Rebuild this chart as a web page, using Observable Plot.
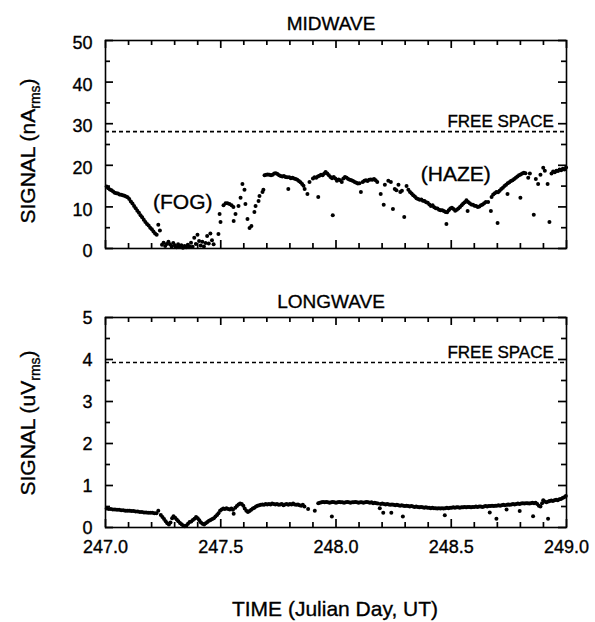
<!DOCTYPE html>
<html><head><meta charset="utf-8">
<script src="https://cdn.jsdelivr.net/npm/d3@7"></script>
<script src="https://cdn.jsdelivr.net/npm/@observablehq/plot@0.6"></script>
<style>
body{margin:0;background:#fff;}
#chart{position:relative;width:595px;height:622px;font-family:"Liberation Sans",Arial,Helvetica,sans-serif;color:#000;overflow:hidden;}
#chart > svg{position:absolute;left:0;overflow:visible;}
#chart text{stroke:#000;stroke-width:0.35px;}
.t{position:absolute;white-space:nowrap;line-height:1;-webkit-text-stroke:0.35px #000;}
.ttl{font-size:19px;transform:translate(-50%,-50%);}
.xlab{font-size:21px;transform:translate(-50%,-50%);}
.ylab{font-size:21px;transform:translate(-50%,-50%) rotate(-90deg);}
.ylab sub{font-size:14px;vertical-align:-5px;}
</style></head><body><div id="chart"></div>
<script>
// ---- data ----
const xMajor = [247.0, 247.5, 248.0, 248.5, 249.0];
const xMinor = [247.1,247.2,247.3,247.4,247.6,247.7,247.8,247.9,248.1,248.2,248.3,248.4,248.6,248.7,248.8,248.9];
const midMajor = [0, 10, 20, 30, 40, 50];
const midMinor = [5, 15, 25, 35, 45];
const longMajor = [0, 1, 2, 3, 4, 5];
const longMinor = [0.5, 1.5, 2.5, 3.5, 4.5];
const freeSpaceMid = 28.1;
const freeSpaceLong = 3.93;

const midwave = [
[247.005,14.9],[247.012,14.5],[247.019,14.2],[247.026,14.0],[247.033,13.7],[247.040,13.4],[247.047,13.3],[247.054,13.2],[247.061,13.0],[247.068,12.9],[247.075,12.8],[247.082,12.7],[247.089,12.5],[247.096,12.3],[247.103,11.9],[247.110,11.3],[247.117,10.8],[247.124,10.2],[247.131,9.7],[247.138,9.1],[247.145,8.6],[247.152,8.0],[247.159,7.5],[247.166,6.9],[247.173,6.4],[247.180,5.9],[247.187,5.5],[247.194,5.0],[247.201,4.6],[247.208,4.1],[247.215,3.6],[247.222,3.3],[247.229,5.7],[247.236,4.3],
[247.245,0.9],[247.252,1.4],[247.259,0.6],[247.266,1.1],[247.273,1.6],[247.280,1.0],[247.287,0.5],[247.294,1.3],[247.301,0.7],[247.308,0.3],[247.315,1.0],[247.322,0.4],[247.329,0.8],[247.336,0.2],[247.343,0.6],[247.350,0.3],[247.357,0.9],[247.364,0.5],[247.371,1.4],[247.378,0.4],[247.385,2.6],[247.392,1.1],[247.399,3.3],[247.406,1.8],[247.413,0.7],[247.420,1.6],[247.427,0.5],[247.434,1.3],[247.441,3.0],[247.448,1.2],[247.455,3.6],[247.462,2.0],[247.469,1.0],
[247.490,3.5],[247.495,8.3],[247.499,6.4],[247.512,10.4],[247.521,10.9],[247.529,10.9],[247.538,10.7],[247.547,10.4],[247.555,10.0],[247.556,6.6],[247.564,8.3],[247.577,10.2],[247.586,12.2],[247.594,15.5],[247.603,14.1],[247.607,10.7],[247.616,7.1],[247.625,4.9],[247.633,5.4],[247.646,8.8],[247.651,10.2],[247.664,11.4],[247.668,12.6],[247.681,13.6],[247.685,14.1],
[247.690,17.6],[247.697,17.7],[247.704,17.8],[247.711,17.7],[247.718,17.6],[247.725,17.7],[247.732,18.0],[247.739,18.1],[247.746,17.9],[247.753,17.6],[247.760,17.4],[247.767,17.3],[247.774,17.4],[247.781,17.2],[247.788,17.1],[247.793,14.3],[247.797,17.1],[247.804,16.9],[247.811,17.0],[247.818,16.8],[247.825,16.7],[247.832,16.5],[247.839,16.2],[247.846,15.9],[247.853,15.5],[247.859,15.1],[247.864,14.3],[247.876,13.1],[247.885,16.0],[247.900,16.8],[247.907,17.1],[247.914,17.0],[247.921,17.3],[247.923,12.4],[247.928,17.5],[247.935,17.7],[247.942,17.6],[247.949,18.0],[247.955,18.4],[247.962,18.0],[247.969,17.6],[247.976,17.2],[247.983,16.9],[247.986,8.0],
[247.990,17.2],[247.997,16.8],[248.004,16.3],[248.011,16.6],[248.018,16.4],[248.025,16.0],[248.032,16.8],[248.039,17.2],[248.046,17.0],[248.053,16.7],[248.060,16.5],[248.067,16.4],[248.074,16.2],[248.081,16.0],[248.088,15.8],[248.095,15.6],[248.102,15.7],[248.108,13.6],[248.116,16.0],[248.123,16.3],[248.130,16.4],[248.137,16.2],[248.144,16.5],[248.151,16.6],[248.158,16.5],[248.165,16.7],[248.172,16.4],[248.179,16.0],[248.194,13.1],[248.207,10.5],[248.212,15.3],[248.227,16.3],[248.238,16.0],[248.247,9.5],[248.255,14.3],[248.262,14.0],[248.271,15.3],[248.279,13.6],[248.286,13.9],[248.296,7.6],[248.306,15.0],[248.314,14.1],[248.321,13.6],[248.328,13.2],[248.335,12.8],[248.342,12.5],[248.349,12.1],[248.356,11.9],[248.363,11.7],[248.370,11.8],[248.377,11.5],[248.384,11.4],[248.391,11.1],[248.398,11.0],[248.405,10.6],[248.412,10.2],[248.419,10.4],[248.426,9.9],[248.433,9.7],[248.440,9.6],[248.447,9.3],[248.454,9.2],
[248.461,9.2],[248.468,9.0],[248.475,8.8],[248.479,5.9],[248.482,8.7],[248.489,9.2],[248.496,9.6],[248.503,9.8],[248.510,9.5],[248.517,9.1],[248.524,9.3],[248.531,9.6],[248.538,10.0],[248.545,10.4],[248.552,10.8],[248.559,11.1],[248.566,11.6],[248.571,9.0],[248.573,11.2],[248.580,10.9],[248.587,10.6],[248.594,10.5],[248.601,10.3],[248.608,10.2],[248.615,10.0],[248.622,10.1],[248.629,10.4],[248.636,10.6],[248.643,10.9],[248.650,11.2],[248.660,11.2],[248.672,9.0],[248.675,12.4],[248.682,13.0],[248.689,13.3],[248.696,13.6],[248.701,6.1],[248.703,13.5],[248.710,13.9],[248.717,14.3],[248.724,14.6],[248.731,15.0],[248.738,15.3],[248.744,13.1],[248.745,15.7],[248.752,15.9],[248.759,16.2],[248.766,16.4],[248.773,16.7],[248.780,17.0],[248.787,17.3],[248.794,17.6],[248.800,12.2],[248.801,17.8],[248.808,18.0],[248.815,18.2],[248.822,18.1],[248.834,17.0],[248.841,18.0],[248.858,8.1],[248.867,16.7],[248.877,15.5],[248.887,17.7],[248.899,19.4],[248.906,18.7],[248.918,15.5],[248.926,6.4],[248.935,18.0],[248.942,18.5],[248.949,18.3],[248.956,18.7],[248.963,18.6],[248.970,19.0],[248.977,18.8],[248.984,19.2],[248.991,19.0],[248.998,19.5]
];

const longwave = [
[247.005,0.45],[247.014,0.44],[247.023,0.44],[247.032,0.43],[247.041,0.43],[247.050,0.42],[247.059,0.42],[247.068,0.41],[247.077,0.41],[247.086,0.40],[247.095,0.40],[247.104,0.40],[247.113,0.39],[247.122,0.39],[247.131,0.38],[247.140,0.38],[247.149,0.37],[247.158,0.37],[247.167,0.36],[247.176,0.36],[247.185,0.35],[247.194,0.35],[247.203,0.35],[247.212,0.34],[247.221,0.34],[247.229,0.40],
[247.240,0.30],[247.247,0.25],[247.254,0.20],[247.261,0.15],[247.268,0.10],[247.275,0.07],[247.282,0.12],[247.289,0.22],[247.295,0.27],[247.302,0.23],[247.309,0.19],[247.316,0.15],[247.323,0.11],[247.330,0.08],[247.337,0.05],[247.344,0.03],[247.351,0.05],[247.358,0.09],[247.365,0.13],[247.372,0.14],[247.379,0.18],[247.386,0.21],[247.393,0.25],[247.400,0.22],[247.407,0.17],[247.414,0.12],[247.421,0.09],[247.428,0.07],[247.435,0.10],[247.442,0.13],[247.449,0.16],[247.456,0.18],[247.463,0.20],[247.470,0.22],[247.477,0.26],[247.484,0.30],[247.490,0.34],
[247.497,0.40],[247.504,0.43],[247.511,0.45],[247.518,0.44],[247.525,0.46],[247.532,0.44],[247.539,0.43],[247.546,0.45],[247.553,0.42],[247.556,0.33],[247.563,0.47],[247.570,0.51],[247.577,0.55],[247.584,0.57],[247.591,0.56],[247.598,0.52],[247.604,0.45],[247.611,0.40],[247.618,0.37],[247.625,0.39],[247.632,0.42],[247.639,0.45],[247.646,0.47],[247.653,0.50],[247.660,0.52],[247.667,0.53],[247.674,0.54],[247.681,0.55],[247.688,0.54],[247.695,0.56],[247.702,0.55],[247.709,0.56],[247.716,0.55],[247.723,0.57],[247.730,0.56],[247.737,0.55],[247.744,0.56],[247.751,0.54],[247.758,0.55],[247.765,0.56],[247.772,0.53],[247.779,0.55],[247.786,0.56],[247.793,0.54],[247.800,0.56],[247.807,0.55],[247.814,0.57],[247.821,0.55],[247.828,0.54],[247.835,0.55],[247.842,0.53],[247.849,0.52],[247.856,0.54],[247.863,0.50],[247.879,0.44],[247.908,0.40],
[247.923,0.58],[247.930,0.59],[247.937,0.60],[247.944,0.61],[247.951,0.60],[247.958,0.61],[247.965,0.60],[247.972,0.59],[247.979,0.60],[247.982,0.26],[247.986,0.61],[247.993,0.60],[248.000,0.59],[248.007,0.60],[248.014,0.61],[248.021,0.60],[248.028,0.60],[248.035,0.59],[248.042,0.60],[248.049,0.61],[248.056,0.60],[248.063,0.59],[248.070,0.60],[248.077,0.60],[248.084,0.61],[248.091,0.60],[248.098,0.59],[248.105,0.60],[248.112,0.60],[248.119,0.59],[248.126,0.60],[248.133,0.61],[248.140,0.60],[248.147,0.59],[248.154,0.60],[248.161,0.58],[248.168,0.59],[248.175,0.58],[248.182,0.57],[248.190,0.46],[248.194,0.56],[248.201,0.57],[248.205,0.35],[248.208,0.56],[248.215,0.55],[248.222,0.56],[248.229,0.55],[248.236,0.54],[248.240,0.35],[248.243,0.55],[248.250,0.54],[248.257,0.53],[248.264,0.54],[248.271,0.53],[248.278,0.52],[248.285,0.53],[248.290,0.26],[248.292,0.52],[248.299,0.51],[248.306,0.52],[248.313,0.51],[248.320,0.50],[248.327,0.51],[248.334,0.50],[248.341,0.49],[248.348,0.50],[248.355,0.49],[248.362,0.48],[248.369,0.49],[248.376,0.48],[248.383,0.47],[248.390,0.48],[248.397,0.47],[248.404,0.47],[248.411,0.46],[248.418,0.47],[248.425,0.46],[248.432,0.46],[248.439,0.45],[248.446,0.46],[248.453,0.45],[248.460,0.46],[248.467,0.45],[248.472,0.29],[248.474,0.46],[248.481,0.47],[248.488,0.46],[248.495,0.47],[248.502,0.47],[248.509,0.48],[248.516,0.47],[248.523,0.48],[248.530,0.48],[248.537,0.47],[248.544,0.48],[248.551,0.48],[248.558,0.49],[248.565,0.48],[248.572,0.49],[248.579,0.49],[248.586,0.48],[248.593,0.49],[248.600,0.49],[248.607,0.50],[248.614,0.49],[248.621,0.50],[248.628,0.50],[248.635,0.49],[248.642,0.50],[248.649,0.51],[248.656,0.50],[248.663,0.51],[248.667,0.36],[248.670,0.51],[248.677,0.52],[248.684,0.51],[248.691,0.52],[248.696,0.21],[248.698,0.52],[248.705,0.53],[248.712,0.52],[248.719,0.53],[248.726,0.54],[248.733,0.53],[248.740,0.43],[248.742,0.54],[248.747,0.55],[248.754,0.54],[248.761,0.55],[248.768,0.56],[248.775,0.55],[248.782,0.56],[248.789,0.57],[248.796,0.56],[248.797,0.39],[248.803,0.57],[248.810,0.58],[248.817,0.57],[248.824,0.58],[248.831,0.58],[248.838,0.57],[248.845,0.58],[248.852,0.59],[248.855,0.27],[248.859,0.58],[248.866,0.59],[248.873,0.56],[248.880,0.52],[248.887,0.50],[248.894,0.58],[248.899,0.65],[248.906,0.62],[248.913,0.60],[248.920,0.21],[248.922,0.62],[248.927,0.63],[248.934,0.64],[248.941,0.63],[248.948,0.65],[248.955,0.66],[248.962,0.65],[248.969,0.67],[248.976,0.68],[248.983,0.70],[248.990,0.72],[248.997,0.75]
];

const midNotes = [{label:"(FOG)", t:247.335, v:11.1}, {label:"(HAZE)", t:248.52, v:17.8}];
const freeLabelT = 248.945;

// ---- drawing ----
const FONT = '"Liberation Sans", Arial, Helvetica, sans-serif';
const W = 595, ML = 105, MR = 29;
const FW = W - ML - MR; // frame width in px

// inward ticks on all four sides: rules pulled in from the far side by insets
function tickMarks(major, minor, frameH) {
  const m = [];
  for (const [vals, s] of [[major, 8], [minor, 5]]) {
    m.push(Plot.ruleY(vals, {y:d=>d, insetRight:FW - s, stroke:"#000", strokeWidth:1.7}));
    m.push(Plot.ruleY(vals, {y:d=>d, insetLeft:FW - s, stroke:"#000", strokeWidth:1.7}));
  }
  for (const [vals, s] of [[xMajor, 8], [xMinor, 5]]) {
    m.push(Plot.ruleX(vals, {x:d=>d, insetTop:frameH - s, stroke:"#000", strokeWidth:1.7}));
    m.push(Plot.ruleX(vals, {x:d=>d, insetBottom:frameH - s, stroke:"#000", strokeWidth:1.7}));
  }
  return m;
}

function panel({data, yDomain, major, minor, free, height, marginTop, marginBottom, notes, labelDy, xLabels}) {
  const frameH = height - marginTop - marginBottom;
  const marks = [
    Plot.frame({stroke:"#000", strokeWidth:1.6}),
    ...tickMarks(major, minor, frameH),
    Plot.ruleY([free], {strokeDasharray:"4,3", strokeWidth:1.6}),
    Plot.text(["FREE SPACE"], {x:freeLabelT, y:free, text:d=>d, textAnchor:"end", dy:-10, fontSize:17}),
    ...notes.map(n => Plot.text([n], {x:"t", y:"v", text:"label", fontSize:21})),
    Plot.dot(data, {x:d=>d[0], y:d=>d[1], r:2, fill:"#000", stroke:null}),
    Plot.axisY(major, {anchor:"left", tickSize:0, tickPadding:13, tickFormat:d=>String(d), label:null, fontSize:18, dy:labelDy})
  ];
  if (xLabels) marks.push(Plot.axisX(xMajor, {anchor:"bottom", tickSize:0, tickPadding:13, tickFormat:d=>d.toFixed(1), label:null, fontSize:18}));
  else marks.push(Plot.axisX(xMajor, {anchor:"bottom", tickSize:0, tickFormat:()=>"", label:null}));
  return Plot.plot({
    width:W, height, marginTop, marginBottom, marginLeft:ML, marginRight:MR,
    x:{domain:[247,249]}, y:{domain:yDomain},
    style:{fontFamily:FONT, color:"#000", background:"transparent", overflow:"visible"},
    marks
  });
}

const chart = document.getElementById("chart");
const topSvg = panel({data:midwave, yDomain:[0,50], major:midMajor, minor:midMinor, free:freeSpaceMid, height:262, marginTop:40, marginBottom:14, notes:midNotes, labelDy:3, xLabels:false});
topSvg.style.top = "0px";
chart.appendChild(topSvg);
const botSvg = panel({data:longwave, yDomain:[0,5], major:longMajor, minor:longMinor, free:freeSpaceLong, height:342, marginTop:37, marginBottom:95, notes:[], labelDy:1, xLabels:true});
botSvg.style.top = "280px";
chart.appendChild(botSvg);

function addText(cls, html, x, y) {
  const d = document.createElement("div");
  d.className = "t " + cls;
  d.innerHTML = html;
  d.style.left = x + "px";
  d.style.top = y + "px";
  chart.appendChild(d);
}
addText("ttl", "MIDWAVE", 331, 23);
addText("ttl", "LONGWAVE", 331, 301);
addText("ylab", "SIGNAL (nA<sub>rms</sub>)", 29, 151);
addText("ylab", "SIGNAL (uV<sub>rms</sub>)", 29, 423);
addText("xlab", "TIME (Julian Day, UT)", 335, 608);
</script></body></html>
